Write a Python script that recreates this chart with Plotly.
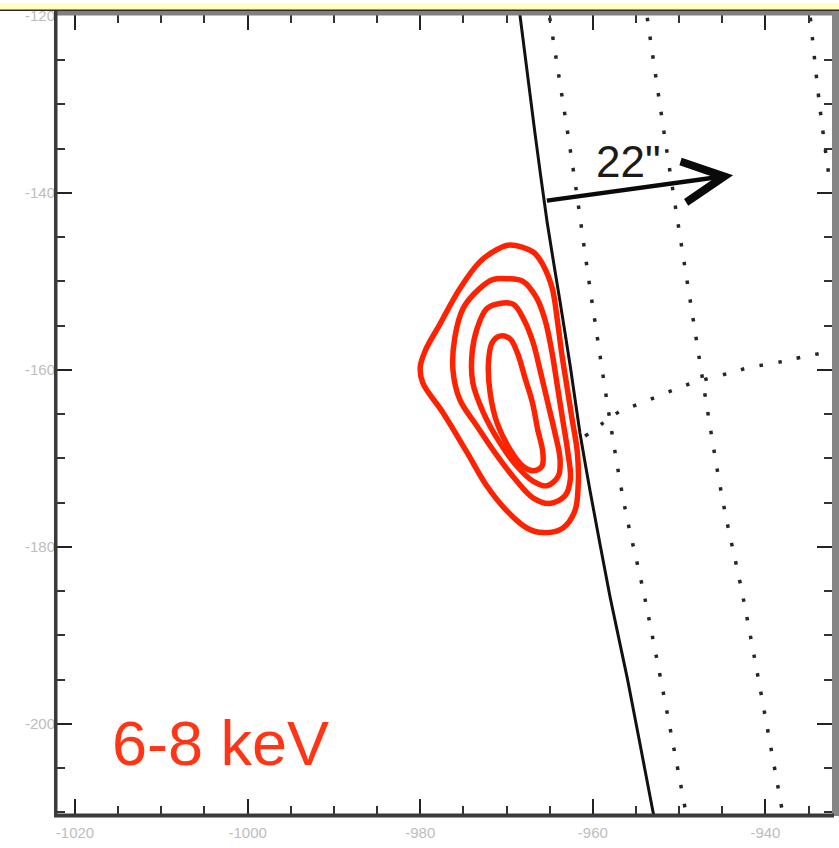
import plotly.graph_objects as go

# ---- data (arcsec) ----
x_ticks = [-1020, -1000, -980, -960, -940]
y_ticks = [-120, -140, -160, -180, -200]

# solar limb
limb_x = [-968.5, -966.7, -965.3, -963.8, -962.6, -961.5, -960.3, -958.0, -956.0, -953.1, -952.8]
limb_y = [-119.5, -133.3, -143.3, -152.3, -159.7, -167.1, -173.8, -185.7, -194.9, -209.6, -211.0]

# heliographic grid (dotted)
grid_a_x = [-965.0, -962.3, -960.1, -956.5, -954.0, -949.3]
grid_a_y = [-120.2, -137.2, -152.3, -174.5, -185.7, -209.6]
grid_b_x = [-953.7, -951.5, -948.7, -945.0, -942.6, -938.1]
grid_b_y = [-120.2, -134.8, -152.3, -174.5, -185.7, -209.6]
grid_c_x = [-934.8, -933.7, -932.5]
grid_c_y = [-120.2, -130.3, -139.1]
grid_d_x = [-960.9, -958.6, -956.85, -954.5, -950.7, -948.5, -944.3, -942.1, -938.0, -936.0, -932.3]
grid_d_y = [-167.5, -165.85, -164.7, -163.8, -162.3, -161.5, -160.4, -159.8, -159.05, -158.6, -157.9]

# 6-8 keV contour levels (outer to inner)
c1_x = [-963.0, -962.4, -961.8, -961.7, -962.1, -963.5, -965.8, -967.6, -969.9, -972.3, -974.6, -977.4, -979.7,
        -980.0, -979.4, -977.7, -975.4, -973.1, -971.1, -969.6, -966.9, -965.8, -964.7, -964.1, -963.6]
c1_y = [-161.9, -165.6, -169.3, -173.1, -176.0, -177.9, -178.4, -177.9, -176.0, -173.1, -169.3, -164.8, -161.5,
        -159.7, -157.8, -154.8, -150.8, -147.8, -146.4, -145.9, -146.7, -148.1, -150.8, -154.5, -158.2]
c2_x = [-964.1, -963.5, -962.9, -962.6, -963.2, -965.0, -966.9, -968.8, -971.1, -973.4, -975.4, -976.2, -976.0,
        -975.0, -973.1, -971.6, -969.9, -968.1, -966.5, -965.5, -964.7]
c2_y = [-161.9, -165.6, -169.3, -172.3, -174.2, -175.1, -174.5, -172.6, -169.7, -166.4, -163.4, -160.1, -156.4,
        -153.0, -150.8, -149.8, -149.7, -150.0, -151.9, -154.5, -158.2]
c3_x = [-966.1, -965.3, -964.4, -963.8, -964.0, -965.3, -966.9, -968.8, -970.8, -972.7, -973.9, -974.0, -973.4,
        -972.3, -970.8, -969.2, -967.9, -966.9]
c3_y = [-160.1, -163.4, -167.1, -170.1, -172.0, -173.1, -172.6, -170.9, -168.2, -164.8, -161.5, -158.2, -155.3,
        -153.1, -152.5, -152.6, -154.5, -157.0]
c4_x = [-967.9, -967.0, -966.4, -965.8, -965.9, -966.9, -968.1, -969.6, -971.1, -971.9, -972.1, -971.7, -970.8,
        -969.6, -968.7]
c4_y = [-160.8, -163.7, -166.7, -169.3, -170.9, -171.4, -170.9, -169.0, -166.0, -162.6, -159.3, -157.0, -156.2,
        -156.5, -158.2]
contours = [(c1_x, c1_y), (c2_x, c2_y), (c3_x, c3_y), (c4_x, c4_y)]

# scale arrow: tail and tip
arrow_tail = (-965.5, -140.9)
arrow_tip = (-943.75, -138.0)
arrow_label = '22"'
arrow_label_pos = (-955.9, -136.4)

band_label = "6-8 keV"
band_label_pos = (-1016.0, -202.2)

x_range = [-1022.09, -932.29]
y_range = [-210.2, -119.9]

RED = "#ff2200"

fig = go.Figure()

for gx, gy in [(grid_a_x, grid_a_y), (grid_b_x, grid_b_y), (grid_c_x, grid_c_y), (grid_d_x, grid_d_y)]:
    fig.add_trace(go.Scatter(x=gx, y=gy, mode="lines",
                             line=dict(color="#262626", width=3.5, dash="3.5px,15.5px", shape="spline"),
                             hoverinfo="skip", showlegend=False))

fig.add_trace(go.Scatter(x=limb_x, y=limb_y, mode="lines",
                         line=dict(color="#111111", width=3, shape="spline", smoothing=0.6),
                         hoverinfo="skip", showlegend=False))

for cx, cy in contours:
    fig.add_trace(go.Scatter(x=cx + cx[:1], y=cy + cy[:1], mode="lines",
                             line=dict(color=RED, width=5.5, shape="spline", smoothing=1.0),
                             hoverinfo="skip", showlegend=False))

fig.add_annotation(x=arrow_tip[0], y=arrow_tip[1], ax=arrow_tail[0], ay=arrow_tail[1],
                   xref="x", yref="y", axref="x", ayref="y", text="",
                   showarrow=True, arrowhead=5, arrowwidth=4.5, arrowsize=1.8,
                   arrowcolor="#0a0a0a", standoff=0, startstandoff=0)
fig.add_annotation(x=arrow_label_pos[0], y=arrow_label_pos[1], xref="x", yref="y",
                   text=arrow_label, showarrow=False,
                   font=dict(family="Liberation Sans, Arial, sans-serif", size=44, color="#1a1a1a"))
fig.add_annotation(x=band_label_pos[0], y=band_label_pos[1], xref="x", yref="y",
                   text=band_label, showarrow=False, xanchor="left", yanchor="middle",
                   font=dict(family="Liberation Sans, Arial, sans-serif", size=63, color="#ff3515"))

W, H = 839, 848
ML, MR, MT, MB = 57, 7, 12, 28
pw, ph = W - ML - MR, H - MT - MB


def px_x(p):
    return (p - ML) / pw


def px_y(p):
    return (H - MB - p) / ph


frame = [
    # yellow strip along the top
    dict(x0=px_x(0), x1=px_x(W), y0=px_y(7), y1=px_y(0), fill="#ffffc2"),
    dict(x0=px_x(0), x1=px_x(W), y0=px_y(8), y1=px_y(6.5), fill="#2a2a2a"),
    # frame bands
    dict(x0=px_x(55), x1=px_x(W), y0=px_y(12.5), y1=px_y(8), fill="#808080"),
    dict(x0=px_x(832), x1=px_x(W), y0=px_y(822), y1=px_y(8), fill="#858585"),
    dict(x0=px_x(54), x1=px_x(57.5), y0=px_y(823), y1=px_y(8), fill="#3a3a3a"),
    dict(x0=px_x(54), x1=px_x(834), y0=px_y(823.5), y1=px_y(819.5), fill="#3a3a3a"),
]
for f in frame:
    fig.add_shape(type="rect", xref="paper", yref="paper", x0=f["x0"], x1=f["x1"],
                  y0=f["y0"], y1=f["y1"], fillcolor=f["fill"], line=dict(width=0), layer="above")

tick_font = dict(family="Liberation Sans, Arial, sans-serif", size=15, color="#bdbdbd")
axis_common = dict(ticks="inside", ticklen=15, tickwidth=2, tickcolor="#222222",
                   mirror="ticks", showline=False, showgrid=False, zeroline=False,
                   tickfont=tick_font,
                   minor=dict(ticks="inside", ticklen=8, tickwidth=2, tickcolor="#333333",
                              dtick=5, showgrid=False))

fig.update_xaxes(range=x_range, tickmode="array", tickvals=x_ticks,
                 ticktext=[str(v) for v in x_ticks], ticklabelstandoff=8, **axis_common)
fig.update_yaxes(range=y_range, tickmode="array", tickvals=y_ticks,
                 ticktext=[str(v) for v in y_ticks], ticklabelstandoff=1, **axis_common)

fig.update_layout(width=W, height=H, margin=dict(l=ML, r=MR, t=MT, b=MB),
                  paper_bgcolor="white", plot_bgcolor="white", showlegend=False)

fig.write_html("out.html")
